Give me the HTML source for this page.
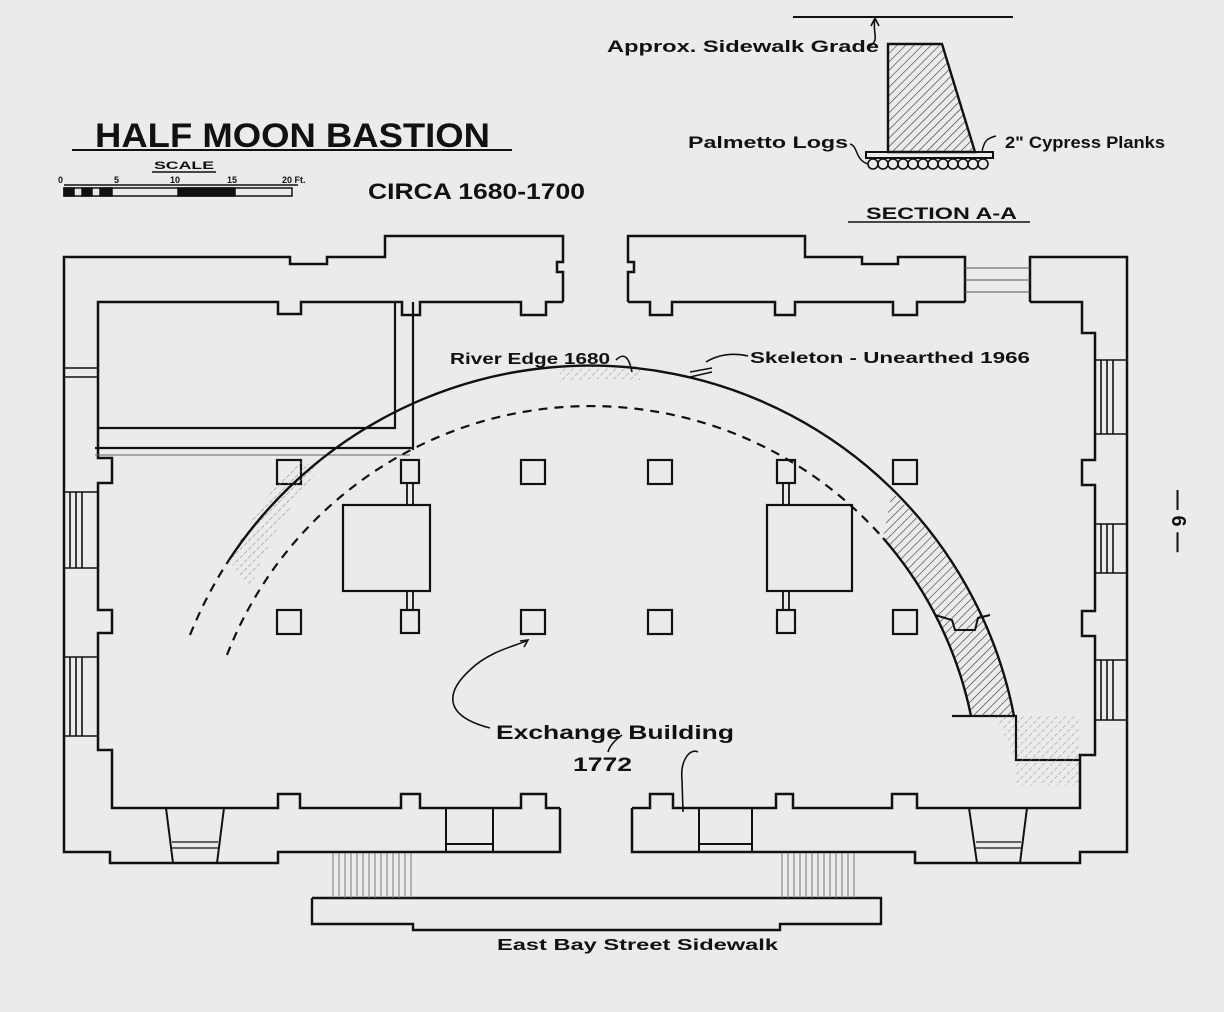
<!DOCTYPE html>
<html><head><meta charset="utf-8"><style>
html,body{margin:0;padding:0;background:#ebebeb;}
svg{display:block}
text{font-family:"Liberation Sans",sans-serif;font-weight:bold;fill:#111}
</style></head><body>
<svg width="1224" height="1012" viewBox="0 0 1224 1012" xmlns="http://www.w3.org/2000/svg">
<defs>
<pattern id="h" width="6" height="6" patternUnits="userSpaceOnUse" patternTransform="rotate(45)">
<line x1="0" y1="0" x2="0" y2="6" stroke="#333" stroke-width="1.2"/></pattern>
<pattern id="hl" width="6" height="6" patternUnits="userSpaceOnUse" patternTransform="rotate(45)">
<line x1="0" y1="0" x2="0" y2="6" stroke="#888" stroke-width="1" stroke-dasharray="3 2"/></pattern>
</defs>
<rect width="1224" height="1012" fill="#ebebeb"/>
<g fill="none" stroke="#111" stroke-width="2.5" stroke-linejoin="miter">
<!-- left part outer -->
<polyline points="563,302 563,272 557,272 557,262 563,262 563,236 385,236 385,257 327,257 327,264 290,264 290,257 64,257 64,852 110,852 110,863 278,863 278,852 560,852 560,808"/>
<polyline points="563,302 546,302 546,315 521,315 521,302 420,302 420,315 402,315 402,302 301,302 301,314 278,314 278,302 98,302 98,458 112,458 112,483 98,483 98,610 112,610 112,633 98,633 98,750 112,750 112,808 278,808 278,794 300,794 300,808 401,808 401,794 420,794 420,808 521,808 521,794 546,794 546,808 560,808"/>
<!-- right part outer -->
<polyline points="628,302 628,272 634,272 634,262 628,262 628,236 805,236 805,257 862,257 862,264 898,264 898,257 965,257 965,302"/>
<polyline points="1030,302 1030,257 1127,257 1127,852 1080,852 1080,863 915,863 915,852 632,852 632,808"/>
<polyline points="628,302 650,302 650,315 672,315 672,302 775,302 775,315 795,315 795,302 893,302 893,315 917,315 917,302 965,302"/>
<polyline points="1030,302 1082,302 1082,333 1095,333 1095,460 1082,460 1082,485 1095,485 1095,611 1082,611 1082,636 1095,636 1095,755 1080,755 1080,808 917,808 917,794 892,794 892,808 793,808 793,794 776,794 776,808 673,808 673,794 650,794 650,808 632,808"/>
<!-- top-left room -->
<polyline points="98,428 395,428 395,302" stroke-width="2.2"/>
<line x1="413" y1="302" x2="413" y2="450" stroke-width="2.2"/>
<line x1="95" y1="448" x2="413" y2="448" stroke-width="2.2"/>
<line x1="95" y1="455" x2="410" y2="455" stroke-width="1" stroke="#666"/>
<!-- columns -->
<rect x="277" y="460" width="24" height="24" stroke-width="2.2"/>
<rect x="521" y="460" width="24" height="24" stroke-width="2.2"/>
<rect x="648" y="460" width="24" height="24" stroke-width="2.2"/>
<rect x="893" y="460" width="24" height="24" stroke-width="2.2"/>
<rect x="277" y="610" width="24" height="24" stroke-width="2.2"/>
<rect x="521" y="610" width="24" height="24" stroke-width="2.2"/>
<rect x="648" y="610" width="24" height="24" stroke-width="2.2"/>
<rect x="893" y="610" width="24" height="24" stroke-width="2.2"/>
<rect x="401" y="460" width="18" height="23" stroke-width="2.2"/>
<rect x="401" y="610" width="18" height="23" stroke-width="2.2"/>
<rect x="777" y="460" width="18" height="23" stroke-width="2.2"/>
<rect x="777" y="610" width="18" height="23" stroke-width="2.2"/>
<rect x="343" y="505" width="87" height="86" stroke-width="2.2"/>
<rect x="767" y="505" width="85" height="86" stroke-width="2.2"/>
<g stroke-width="1.8">
<line x1="407" y1="483" x2="407" y2="505"/><line x1="413" y1="483" x2="413" y2="505"/>
<line x1="407" y1="591" x2="407" y2="610"/><line x1="413" y1="591" x2="413" y2="610"/>
<line x1="783" y1="483" x2="783" y2="505"/><line x1="789" y1="483" x2="789" y2="505"/>
<line x1="783" y1="591" x2="783" y2="610"/><line x1="789" y1="591" x2="789" y2="610"/>
</g>
<!-- left windows -->
<g stroke-width="1.6">
<line x1="64" y1="368" x2="98" y2="368"/><line x1="64" y1="377" x2="98" y2="377"/>
<line x1="64" y1="492" x2="98" y2="492"/><line x1="64" y1="568" x2="98" y2="568"/>
<line x1="70" y1="492" x2="70" y2="568"/><line x1="76" y1="492" x2="76" y2="568"/><line x1="82" y1="492" x2="82" y2="568"/>
<line x1="64" y1="657" x2="98" y2="657"/><line x1="64" y1="736" x2="98" y2="736"/>
<line x1="70" y1="657" x2="70" y2="736"/><line x1="76" y1="657" x2="76" y2="736"/><line x1="82" y1="657" x2="82" y2="736"/>
<!-- right windows -->
<line x1="1095" y1="360" x2="1127" y2="360"/><line x1="1095" y1="434" x2="1127" y2="434"/>
<line x1="1101" y1="360" x2="1101" y2="434"/><line x1="1107" y1="360" x2="1107" y2="434"/><line x1="1113" y1="360" x2="1113" y2="434"/>
<line x1="1095" y1="524" x2="1127" y2="524"/><line x1="1095" y1="573" x2="1127" y2="573"/>
<line x1="1101" y1="524" x2="1101" y2="573"/><line x1="1107" y1="524" x2="1107" y2="573"/><line x1="1113" y1="524" x2="1113" y2="573"/>
<line x1="1095" y1="660" x2="1127" y2="660"/><line x1="1095" y1="720" x2="1127" y2="720"/>
<line x1="1101" y1="660" x2="1101" y2="720"/><line x1="1107" y1="660" x2="1107" y2="720"/><line x1="1113" y1="660" x2="1113" y2="720"/>
</g>
<!-- top stairs -->
<g stroke-width="1" stroke="#555">
<line x1="965" y1="268" x2="1030" y2="268"/><line x1="965" y1="280" x2="1030" y2="280"/><line x1="965" y1="292" x2="1030" y2="292"/>
</g>
<!-- bottom doors -->
<g stroke-width="2">
<line x1="446" y1="808" x2="446" y2="852"/><line x1="493" y1="808" x2="493" y2="852"/><line x1="446" y1="844" x2="493" y2="844"/>
<line x1="699" y1="808" x2="699" y2="852"/><line x1="752" y1="808" x2="752" y2="852"/><line x1="699" y1="844" x2="752" y2="844"/>
<line x1="166" y1="808" x2="173" y2="863"/><line x1="224" y1="808" x2="217" y2="863"/>
<line x1="172" y1="842" x2="218" y2="842" stroke-width="1.2"/><line x1="172" y1="848" x2="218" y2="848" stroke-width="1.2"/>
<line x1="969" y1="808" x2="977" y2="863"/><line x1="1027" y1="808" x2="1020" y2="863"/>
<line x1="976" y1="842" x2="1021" y2="842" stroke-width="1.2"/><line x1="976" y1="848" x2="1021" y2="848" stroke-width="1.2"/>
</g>
<!-- sidewalk -->
<polyline points="312,898 881,898 881,924 780,924 780,930 413,930 413,924 312,924 312,898" stroke-width="2.4"/>
<!-- corner room line -->
<polyline points="952,716 1016,716 1016,760 1080,760" stroke-width="2.2"/>
</g>
<!-- bottom steps hatch -->
<g stroke="#777" stroke-width="1">
<path d="M333 853V898M339 853V898M345 853V898M351 853V898M357 853V898M363 853V898M369 853V898M375 853V898M381 853V898M387 853V898M393 853V898M399 853V898M405 853V898M411 853V898"/>
<path d="M782 853V898M788 853V898M794 853V898M800 853V898M806 853V898M812 853V898M818 853V898M824 853V898M830 853V898M836 853V898M842 853V898M848 853V898M854 853V898"/>
</g>
<!-- hatched regions -->
<path d="M892,492 A429,429 0 0 1 1014,716 L971,716 A390,390 0 0 0 883,538 Z" fill="url(#h)" stroke="none"/>
<path d="M995,716 L1080,716 L1080,785 L1016,785 L1016,760 Z" fill="url(#hl)" stroke="none"/>
<path d="M229,560 A432,432 0 0 1 300,458 L318,470 A390,390 0 0 0 250,590 Z" fill="url(#hl)" stroke="none"/>
<path d="M560,368 A432,432 0 0 1 640,366 L640,380 A420,420 0 0 0 560,382 Z" fill="url(#hl)" stroke="none"/>
<!-- arcs -->
<g fill="none" stroke="#111">
<path d="M190,635 A432,432 0 0 1 229,560" stroke-width="2.2" stroke-dasharray="9 7"/>
<path d="M229,560 A432,432 0 0 1 1014,716" stroke-width="2.4"/>
<path d="M227,655 A390,390 0 0 1 883,538" stroke-width="2.2" stroke-dasharray="9 7"/>
<path d="M883,538 A390,390 0 0 1 971,716" stroke-width="2.4"/>
<polyline points="935,615 952,620 955,630 975,630 978,618 990,615" stroke-width="2"/>
</g>
<!-- section A-A -->
<g stroke="#111" fill="none">
<line x1="793" y1="17" x2="1013" y2="17" stroke-width="2"/>
<path d="M870,46 C880,40 872,32 875,19 M871,26 L875,18 L879,26" stroke-width="1.6"/>
<polygon points="888,44 942,44 975,152 888,152" fill="url(#h)" stroke-width="2.4"/>
<rect x="866" y="152" width="127" height="6" stroke-width="2"/>
<g stroke-width="1.6">
<circle cx="873" cy="164" r="5"/><circle cx="883" cy="164" r="5"/><circle cx="893" cy="164" r="5"/><circle cx="903" cy="164" r="5"/><circle cx="913" cy="164" r="5"/><circle cx="923" cy="164" r="5"/><circle cx="933" cy="164" r="5"/><circle cx="943" cy="164" r="5"/><circle cx="953" cy="164" r="5"/><circle cx="963" cy="164" r="5"/><circle cx="973" cy="164" r="5"/><circle cx="983" cy="164" r="5"/>
</g>
<path d="M850,144 C858,146 855,160 868,164" stroke-width="1.5"/>
<path d="M982,152 C984,140 988,138 996,136" stroke-width="1.5"/>
<line x1="848" y1="222" x2="1030" y2="222" stroke-width="1.6"/>
</g>
<!-- title & scale -->
<line x1="72" y1="150" x2="512" y2="150" stroke="#111" stroke-width="2"/>
<line x1="152" y1="172" x2="216" y2="172" stroke="#111" stroke-width="1.4"/>
<g stroke="#111" stroke-width="1.5">
<rect x="64" y="188" width="228" height="8" fill="none"/>
<rect x="64" y="188" width="10" height="8" fill="#111"/>
<rect x="82" y="188" width="10" height="8" fill="#111"/>
<rect x="100" y="188" width="12" height="8" fill="#111"/>
<rect x="178" y="188" width="57" height="8" fill="#111"/>
<line x1="64" y1="185" x2="298" y2="185"/>
</g>
<text x="95" y="147" font-size="34" textLength="395" lengthAdjust="spacingAndGlyphs">HALF MOON BASTION</text>
<text x="154" y="169" font-size="11" textLength="60" lengthAdjust="spacingAndGlyphs">SCALE</text>
<text x="58" y="183" font-size="9">0</text>
<text x="114" y="183" font-size="9">5</text>
<text x="170" y="183" font-size="9">10</text>
<text x="227" y="183" font-size="9">15</text>
<text x="282" y="183" font-size="9">20 Ft.</text>
<text x="368" y="199" font-size="22" textLength="217" lengthAdjust="spacingAndGlyphs">CIRCA 1680-1700</text>
<text x="607" y="52" font-size="17" textLength="272" lengthAdjust="spacingAndGlyphs">Approx. Sidewalk Grade</text>
<text x="688" y="148" font-size="17" textLength="160" lengthAdjust="spacingAndGlyphs">Palmetto Logs</text>
<text x="1005" y="148" font-size="17" textLength="160" lengthAdjust="spacingAndGlyphs">2" Cypress Planks</text>
<text x="866" y="219" font-size="17" textLength="151" lengthAdjust="spacingAndGlyphs">SECTION A-A</text>
<text x="450" y="364" font-size="16" textLength="160" lengthAdjust="spacingAndGlyphs">River Edge 1680</text>
<text x="750" y="363" font-size="16" textLength="280" lengthAdjust="spacingAndGlyphs">Skeleton - Unearthed  1966</text>
<text x="496" y="739" font-size="19" textLength="238" lengthAdjust="spacingAndGlyphs">Exchange Building</text>
<text x="573" y="771" font-size="19" textLength="59" lengthAdjust="spacingAndGlyphs">1772</text>
<text x="497" y="950" font-size="16" textLength="281" lengthAdjust="spacingAndGlyphs">East Bay Street Sidewalk</text>
<text transform="translate(1172,490) rotate(90)" font-size="20" font-weight="normal">— 6 —</text>
<!-- leaders -->
<g fill="none" stroke="#111" stroke-width="1.6">
<path d="M616,360 C626,350 630,362 632,372"/>
<path d="M748,356 C730,352 716,356 706,362 M690,372 L712,368 M690,377 L712,372"/>
<path d="M490,728 C440,715 448,690 470,670 C490,650 520,645 528,640 M520,641 L528,640 L524,647"/>
<path d="M622,735 C615,740 610,745 608,752"/>
<path d="M698,752 C690,748 680,760 682,780 L683,812"/>
</g>
</svg>
</body></html>
